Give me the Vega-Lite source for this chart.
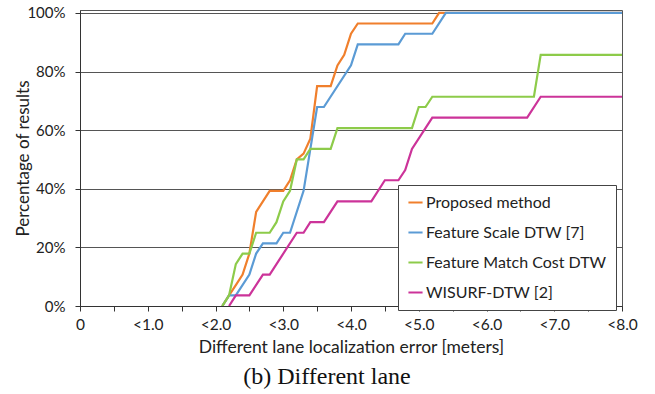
{
  "$schema": "https://vega.github.io/schema/vega-lite/v6.json",
  "autosize": "none",
  "width": 542,
  "height": 296,
  "padding": {"left": 80, "top": 10, "right": 33, "bottom": 88},
  "background": "white",
  "config": {
    "view": {"stroke": "#555", "strokeWidth": 1},
    "font": "Lato"
  },
  "title": {
    "text": "(b) Different lane",
    "orient": "bottom",
    "font": "Liberation Serif",
    "fontSize": 24,
    "fontWeight": "normal",
    "color": "#111",
    "offset": 9,
    "dx": -24
  },
  "data": {
    "values": [
      {"s": "Proposed method", "x": 2.1, "y": 0},
      {"s": "Proposed method", "x": 2.2, "y": 3.6},
      {"s": "Proposed method", "x": 2.3, "y": 7.1},
      {"s": "Proposed method", "x": 2.4, "y": 10.7},
      {"s": "Proposed method", "x": 2.5, "y": 17.9},
      {"s": "Proposed method", "x": 2.6, "y": 32.1},
      {"s": "Proposed method", "x": 2.7, "y": 35.7},
      {"s": "Proposed method", "x": 2.8, "y": 39.3},
      {"s": "Proposed method", "x": 3.0, "y": 39.3},
      {"s": "Proposed method", "x": 3.1, "y": 42.9},
      {"s": "Proposed method", "x": 3.2, "y": 50},
      {"s": "Proposed method", "x": 3.3, "y": 52},
      {"s": "Proposed method", "x": 3.4, "y": 57.1},
      {"s": "Proposed method", "x": 3.5, "y": 75},
      {"s": "Proposed method", "x": 3.7, "y": 75},
      {"s": "Proposed method", "x": 3.8, "y": 82.1},
      {"s": "Proposed method", "x": 3.9, "y": 85.7},
      {"s": "Proposed method", "x": 4.0, "y": 92.9},
      {"s": "Proposed method", "x": 4.1, "y": 96.4},
      {"s": "Proposed method", "x": 5.2, "y": 96.4},
      {"s": "Proposed method", "x": 5.3, "y": 100},
      {"s": "Proposed method", "x": 8.0, "y": 100},
      {"s": "Feature Scale DTW [7]", "x": 2.1, "y": 0},
      {"s": "Feature Scale DTW [7]", "x": 2.2, "y": 3.6},
      {"s": "Feature Scale DTW [7]", "x": 2.3, "y": 3.6},
      {"s": "Feature Scale DTW [7]", "x": 2.5, "y": 10.7},
      {"s": "Feature Scale DTW [7]", "x": 2.6, "y": 17.9},
      {"s": "Feature Scale DTW [7]", "x": 2.7, "y": 21.4},
      {"s": "Feature Scale DTW [7]", "x": 2.9, "y": 21.4},
      {"s": "Feature Scale DTW [7]", "x": 3.0, "y": 25},
      {"s": "Feature Scale DTW [7]", "x": 3.1, "y": 25},
      {"s": "Feature Scale DTW [7]", "x": 3.3, "y": 39.3},
      {"s": "Feature Scale DTW [7]", "x": 3.5, "y": 67.9},
      {"s": "Feature Scale DTW [7]", "x": 3.6, "y": 67.9},
      {"s": "Feature Scale DTW [7]", "x": 4.0, "y": 82.1},
      {"s": "Feature Scale DTW [7]", "x": 4.1, "y": 89.3},
      {"s": "Feature Scale DTW [7]", "x": 4.7, "y": 89.3},
      {"s": "Feature Scale DTW [7]", "x": 4.8, "y": 92.9},
      {"s": "Feature Scale DTW [7]", "x": 5.2, "y": 92.9},
      {"s": "Feature Scale DTW [7]", "x": 5.4, "y": 100},
      {"s": "Feature Scale DTW [7]", "x": 8.0, "y": 100},
      {"s": "Feature Match Cost DTW", "x": 2.1, "y": 0},
      {"s": "Feature Match Cost DTW", "x": 2.2, "y": 3.6},
      {"s": "Feature Match Cost DTW", "x": 2.3, "y": 14.3},
      {"s": "Feature Match Cost DTW", "x": 2.4, "y": 17.9},
      {"s": "Feature Match Cost DTW", "x": 2.5, "y": 17.9},
      {"s": "Feature Match Cost DTW", "x": 2.6, "y": 25},
      {"s": "Feature Match Cost DTW", "x": 2.8, "y": 25},
      {"s": "Feature Match Cost DTW", "x": 2.9, "y": 28.6},
      {"s": "Feature Match Cost DTW", "x": 3.0, "y": 35.7},
      {"s": "Feature Match Cost DTW", "x": 3.1, "y": 39.3},
      {"s": "Feature Match Cost DTW", "x": 3.2, "y": 50},
      {"s": "Feature Match Cost DTW", "x": 3.3, "y": 50},
      {"s": "Feature Match Cost DTW", "x": 3.4, "y": 53.6},
      {"s": "Feature Match Cost DTW", "x": 3.7, "y": 53.6},
      {"s": "Feature Match Cost DTW", "x": 3.8, "y": 60.7},
      {"s": "Feature Match Cost DTW", "x": 4.9, "y": 60.7},
      {"s": "Feature Match Cost DTW", "x": 5.0, "y": 67.9},
      {"s": "Feature Match Cost DTW", "x": 5.1, "y": 67.9},
      {"s": "Feature Match Cost DTW", "x": 5.2, "y": 71.4},
      {"s": "Feature Match Cost DTW", "x": 6.7, "y": 71.4},
      {"s": "Feature Match Cost DTW", "x": 6.8, "y": 85.7},
      {"s": "Feature Match Cost DTW", "x": 8.0, "y": 85.7},
      {"s": "WISURF-DTW [2]", "x": 2.2, "y": 0},
      {"s": "WISURF-DTW [2]", "x": 2.3, "y": 3.6},
      {"s": "WISURF-DTW [2]", "x": 2.5, "y": 3.6},
      {"s": "WISURF-DTW [2]", "x": 2.7, "y": 10.7},
      {"s": "WISURF-DTW [2]", "x": 2.8, "y": 10.7},
      {"s": "WISURF-DTW [2]", "x": 3.2, "y": 25},
      {"s": "WISURF-DTW [2]", "x": 3.3, "y": 25},
      {"s": "WISURF-DTW [2]", "x": 3.4, "y": 28.6},
      {"s": "WISURF-DTW [2]", "x": 3.6, "y": 28.6},
      {"s": "WISURF-DTW [2]", "x": 3.8, "y": 35.7},
      {"s": "WISURF-DTW [2]", "x": 4.3, "y": 35.7},
      {"s": "WISURF-DTW [2]", "x": 4.5, "y": 42.9},
      {"s": "WISURF-DTW [2]", "x": 4.7, "y": 42.9},
      {"s": "WISURF-DTW [2]", "x": 4.8, "y": 46.4},
      {"s": "WISURF-DTW [2]", "x": 4.9, "y": 53.6},
      {"s": "WISURF-DTW [2]", "x": 5.2, "y": 64.3},
      {"s": "WISURF-DTW [2]", "x": 6.6, "y": 64.3},
      {"s": "WISURF-DTW [2]", "x": 6.8, "y": 71.4},
      {"s": "WISURF-DTW [2]", "x": 8.0, "y": 71.4}
    ]
  },
  "mark": {"type": "line", "strokeWidth": 2.2, "clip": true},
  "encoding": {
    "x": {
      "field": "x",
      "type": "quantitative",
      "scale": {"domain": [0, 8], "nice": false, "zero": false},
      "axis": {
        "values": [0, 0.5, 1, 1.5, 2, 2.5, 3, 3.5, 4, 4.5, 5, 5.5, 6, 6.5, 7, 7.5, 8],
        "labelExpr": "datum.value % 1 == 0 ? (datum.value == 0 ? '0' : '<' + format(datum.value, '.1f')) : ''",
        "grid": false,
        "labelFlush": false,
        "labelOverlap": false,
        "tickSize": 5,
        "tickColor": "#333",
        "domainColor": "#333",
        "labelFont": "Lato",
        "labelFontSize": 15.5,
        "labelColor": "#222",
        "labelPadding": 6,
        "title": "Different lane localization error [meters]",
        "titleFont": "Lato",
        "titleFontSize": 17.5,
        "titleFontWeight": "normal",
        "titleColor": "#222",
        "titlePadding": 6
      }
    },
    "y": {
      "field": "y",
      "type": "quantitative",
      "scale": {"domain": [0, 101], "nice": false},
      "axis": {
        "values": [0, 20, 40, 60, 80, 100],
        "labelExpr": "datum.value + '%'",
        "grid": true,
        "gridColor": "#555",
        "gridWidth": 1,
        "tickSize": 5,
        "tickColor": "#333",
        "domainColor": "#333",
        "labelFont": "Lato",
        "labelFontSize": 15,
        "labelColor": "#222",
        "labelPadding": 10,
        "title": "Percentage of results",
        "titleFont": "Lato",
        "titleFontSize": 17,
        "titleFontWeight": "normal",
        "titleColor": "#222",
        "titlePadding": -6
      }
    },
    "color": {
      "field": "s",
      "type": "nominal",
      "sort": ["Proposed method", "Feature Scale DTW [7]", "Feature Match Cost DTW", "WISURF-DTW [2]"],
      "scale": {
        "domain": ["Proposed method", "Feature Scale DTW [7]", "Feature Match Cost DTW", "WISURF-DTW [2]"],
        "range": ["#F07F2C", "#5B9BD5", "#8DCB4A", "#CC3399"]
      },
      "legend": {
        "orient": "none",
        "legendX": 318,
        "legendY": 175,
        "title": null,
        "strokeColor": "#444",
        "fillColor": "white",
        "padding": 9,
        "symbolType": "stroke",
        "symbolStrokeWidth": 2,
        "symbolSize": 200,
        "labelFont": "Lato",
        "labelFontSize": 16,
        "labelColor": "#222",
        "labelOffset": 2,
        "rowPadding": 13,
        "labelLimit": 300
      }
    }
  }
}
